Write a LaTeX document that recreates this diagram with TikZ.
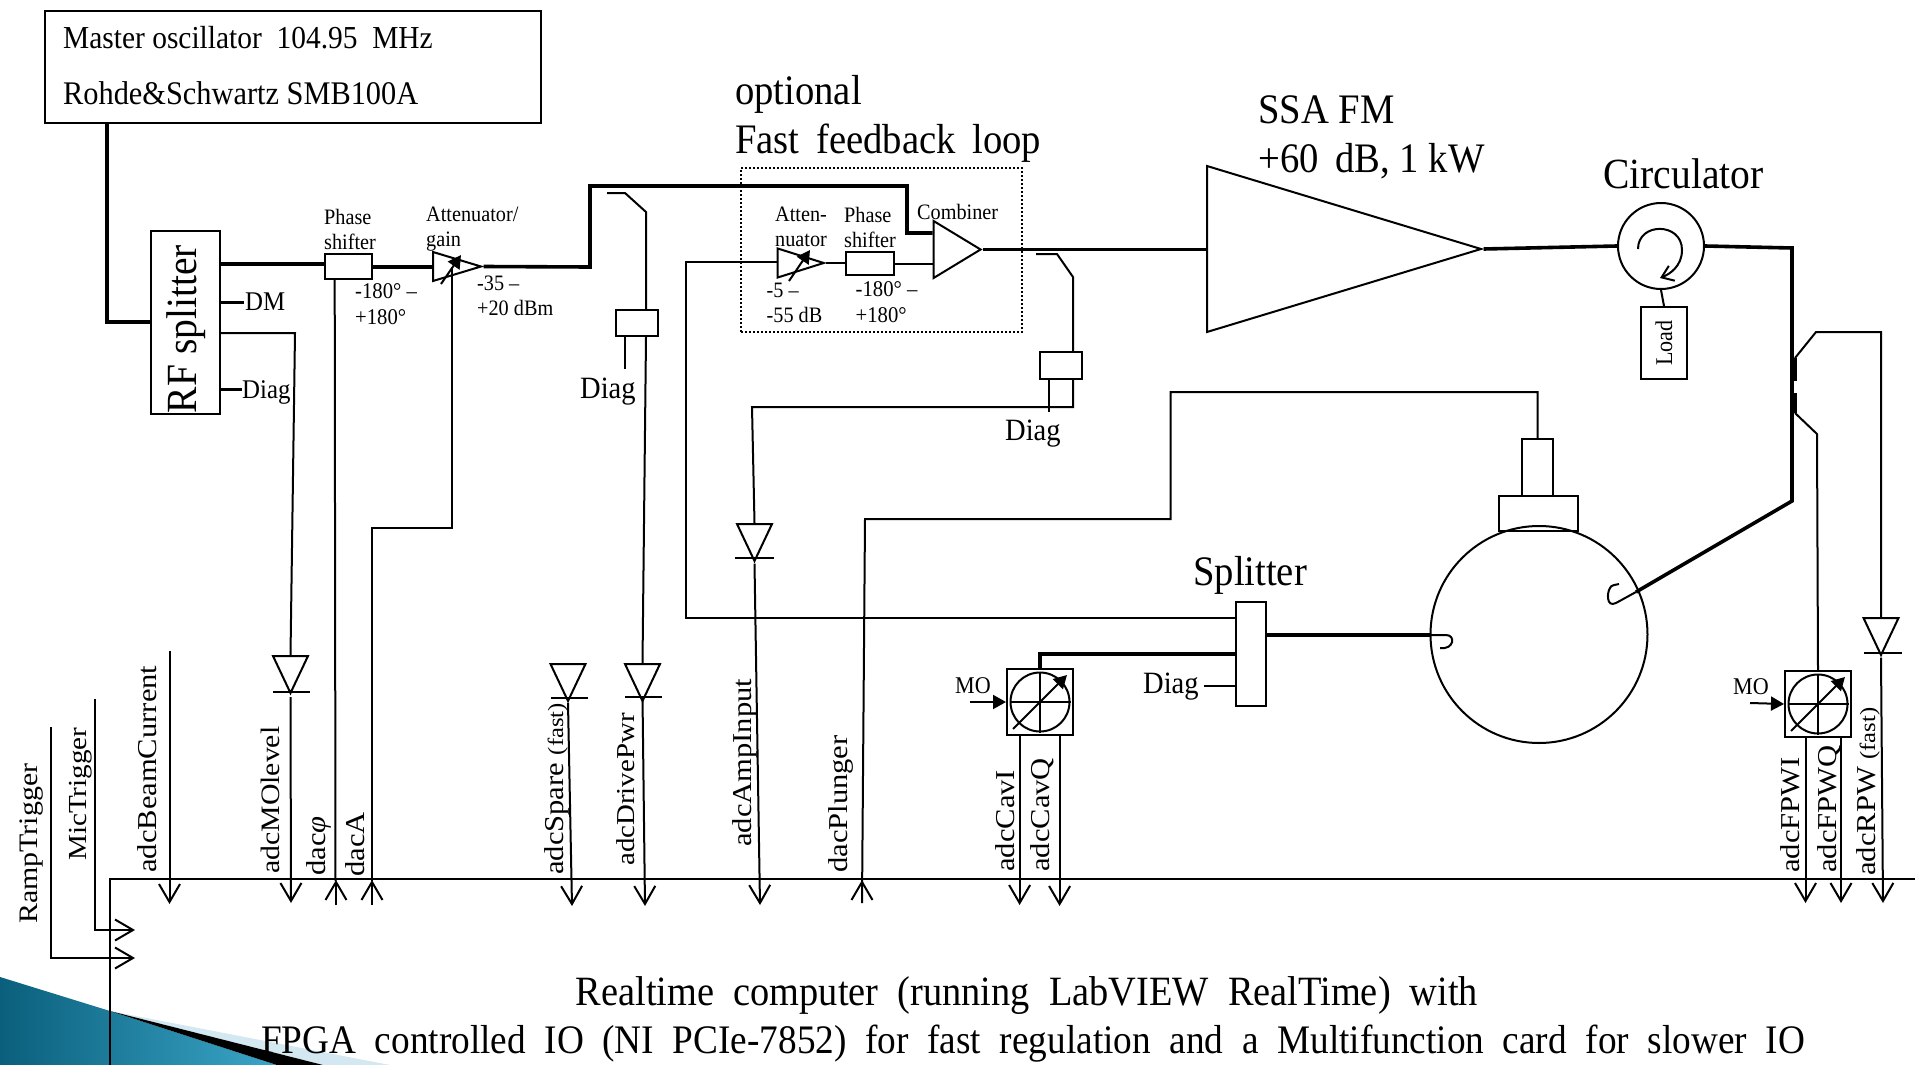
\documentclass[tikz,border=0pt]{standalone}
\usepackage{fontspec}
\setmainfont{Liberation Serif}[FakeStretch=0.92]
\newfontfamily\tallfont{Liberation Serif}[FakeStretch=1.12]
\usepackage{tikz}
\usetikzlibrary{arrows.meta}
\usetikzlibrary{shapes.geometric}
\newcommand{\fs}[1]{\fontsize{#1}{1.12\dimexpr #1pt\relax}\selectfont}
\definecolor{slidedark}{HTML}{0A5F7C}
\definecolor{slidelight}{HTML}{3BA6C8}
\definecolor{slidepale}{HTML}{D3E8F0}
\tikzset{
  wire/.style={line width=2pt},
  rfwire/.style={line width=3.6pt},
  box/.style={draw,line width=2pt,rectangle,inner sep=0pt},
  amp/.style={draw,line width=2pt,isosceles triangle,isosceles triangle stretches,inner sep=0pt,anchor=lower side},
  diode/.style={amp,shape border rotate=-90,minimum height=37pt,minimum width=35pt},
  txt/.style={anchor=base west,inner sep=0pt,align=left},
  vtxt/.style={anchor=base west,inner sep=0pt,rotate=90,font=\tallfont\fs{27.3}},
  tosystem/.style={wire,-{Straight Barb[length=18pt,width=21pt,line width=2pt]}},
  pointer/.style={wire,-{Triangle[length=13pt,width=14pt]}}
}
\begin{document}
\begin{tikzpicture}[x=1pt,y=-1pt]
  \useasboundingbox (0,0) rectangle (1915,1065);

  % slide decoration
  \fill[slidepale] (110,1011) -- (390,1065) -- (323,1065) -- cycle;
  \shade[left color=slidedark,right color=slidelight] (0,977) -- (110,1011) -- (277,1065) -- (0,1065) -- cycle;
  \fill[black] (110,1011) -- (323,1065) -- (277,1065) -- cycle;

  % boxes
  \node[box,minimum width=496pt,minimum height=111pt] (mo) at (293,67) {};
  \node[box,minimum width=69pt,minimum height=183pt] (rf) at (185.5,322.5) {};
  \node[box,minimum width=47pt,minimum height=25pt] (ps1) at (348.5,266.5) {};
  \node[box,minimum width=48pt,minimum height=23pt] (ps2) at (870,263.5) {};
  \node[box,minimum width=42pt,minimum height=26pt] (diag1) at (637,323) {};
  \node[box,minimum width=42pt,minimum height=27pt] (diag2) at (1061,365.5) {};
  \node[box,minimum width=46pt,minimum height=72pt] (load) at (1664,343) {};
  \node[box,minimum width=30pt,minimum height=104pt] (split) at (1251,654) {};
  \node[box,minimum width=31pt,minimum height=57pt] (tunerA) at (1537.5,467.5) {};
  \node[box,minimum width=79pt,minimum height=35pt] (tunerB) at (1538,513.5) {};
  \node[box,minimum width=66pt,minimum height=66pt] (mixA) at (1040,702) {};
  \node[box,minimum width=66pt,minimum height=66pt] (mixB) at (1818,704) {};
  \node[draw,dotted,line width=2pt,minimum width=281pt,minimum height=164pt,inner sep=0pt] (fast) at (881.5,250) {};

  % round parts
  \node[draw,line width=2pt,circle,minimum size=86pt,inner sep=0pt] (circ) at (1661,246) {};
  \node[draw,line width=2pt,circle,minimum size=217pt,inner sep=0pt] (cav) at (1539,634.5) {};
  \node[draw,line width=2pt,circle,minimum size=59pt,inner sep=0pt] (mixAc) at (1040,702) {};
  \node[draw,line width=2pt,circle,minimum size=59pt,inner sep=0pt] (mixBc) at (1818,704) {};

  % amplifiers
  \node[amp,minimum height=48pt,minimum width=29pt] (att1) at (432,266.5) {};
  \node[amp,minimum height=46pt,minimum width=29pt] (att2) at (776.7,263) {};
  \node[amp,minimum height=47pt,minimum width=57pt] (comb) at (932.6,249.5) {};
  \node[amp,minimum height=274pt,minimum width=166pt] (ssa) at (1206,249) {};

  % detectors
  \node[diode] (detMO) at (290.5,655) {};
  \node[diode] (detSp) at (568,663) {};
  \node[diode] (detDr) at (642.5,663) {};
  \node[diode] (detAm) at (754.5,523) {};
  \node[diode] (detRP) at (1881,617) {};
  \coordinate (barMOa) at (273,692); \coordinate (barMOb) at (310,692);
  \coordinate (barSpa) at (551,698); \coordinate (barSpb) at (588,698);
  \coordinate (barDra) at (625,697); \coordinate (barDrb) at (662,697);
  \coordinate (barAma) at (735,558); \coordinate (barAmb) at (774,558);
  \coordinate (barRPa) at (1864,653); \coordinate (barRPb) at (1902,653);
  \foreach \barname in {MO,Sp,Dr,Am,RP}
    \draw[wire] (bar\barname a) -- (bar\barname b);

  % system edge
  \coordinate (edgeL) at (109.5,1065);
  \coordinate (edgeR) at (1915,879);
  \draw[wire] (edgeL) -- (109.5,879) -- (edgeR);

  % RF chain
  \draw[rfwire] (mo.south -| 107,0) -- (107,322) -- (rf.west |- 0,322);
  \draw[rfwire] (rf.east |- 0,264) -- (ps1.west |- 0,264);
  \draw[rfwire] (ps1.east |- 0,267) -- (att1.lower side |- 0,267);
  \draw[rfwire] (att1.apex) -- (590,267) -- (590,186) -- (907,186) -- (907,233) -- (comb.lower side |- 0,233);
  \draw[rfwire] (comb.apex) -- (ssa.lower side |- comb.apex);
  \draw[rfwire] (ssa.apex) -- (circ.west);
  \draw[rfwire] (circ.east) -- (1792,248) -- (1792,501) -- (1636,592);
  \draw[wire] (1636,592) -- (1616,603) .. controls (1606,608) and (1607,592) .. (1610,588) .. controls (1611,585) and (1615,585) .. (1619,584);
  \draw[rfwire] (split.east |- 0,635) -- (cav.west |- 0,635);
  \draw[wire] (cav.west |- 0,635) -- (1446,635) .. controls (1456,635) and (1454,650) .. (1440,648);
  \draw[rfwire] (split.west |- 0,654) -- (1040,654) -- (mixA.north);
  \draw[wire] (circ.south) -- (load.north);

  % fast loop
  \draw[wire] (split.west |- 0,618) -- (685.5,618) -- (685.5,262) -- (att2.lower side |- 0,262);
  \draw[line width=2.6pt] (att2.apex) -- (ps2.west |- att2.apex);
  \draw[wire] (ps2.east) -- (comb.lower side |- ps2.east);
  \draw[pointer] (789,281) -- (810,250);
  \draw[pointer] (441,284) -- (461,255);

  % splitter outputs and couplers
  \draw[wire] (rf.east |- 0,333) -- (295,333) -- (detMO.lower side);
  \coordinate (dmEnd) at (244,302);
  \coordinate (diagEnd) at (242,389);
  \draw[line width=3pt] (rf.east |- dmEnd) -- (dmEnd);
  \draw[line width=3pt] (rf.east |- diagEnd) -- (diagEnd);
  \coordinate (tapA) at (607,193);
  \draw[wire] (tapA) -- (625,193) -- (646,212) -- (diag1.north -| 646,0);
  \draw[wire] (diag1.south -| 646,0) -- (detDr.lower side);
  \coordinate (stubA) at (624.5,369);
  \draw[wire] (diag1.south -| stubA) -- (stubA);
  \coordinate (tapB) at (1036,254);
  \draw[wire] (tapB) -- (1057,254) -- (1073,277) -- (diag2.north -| 1073,0);
  \draw[wire] (diag2.south -| 1073,0) -- (1073,407) -- (752,407) -- (detAm.lower side);
  \coordinate (stubB) at (1049,412);
  \draw[wire] (diag2.south -| stubB) -- (stubB);
  \coordinate (diagSplit) at (1204,686);
  \draw[wire] (diagSplit) -- (split.west |- diagSplit);
  \draw[line width=4pt] (1795,358) -- (1795,381);
  \draw[line width=4pt] (1795,393) -- (1795,413);
  \draw[wire] (1795,358) -- (1816,332) -- (1881,332) -- (detRP.lower side);
  \draw[wire] (1795,413) -- (1817,434) -- (mixB.north);

  % mixers
  \foreach \mixname/\mx/\my in {mixA/1040/702,mixB/1818/704}{
    \draw[wire] (\mixname c.west) -- (\mixname c.east);
    \draw[wire] (\mixname c.north) -- (\mixname c.south);
    \draw[pointer] (\mx-27,\my+27) -- (\mx+27,\my-27);
  }
  \coordinate (moA) at (970,702);
  \coordinate (moB) at (1750,703);
  \draw[pointer] (moA) -- (mixA.west);
  \draw[pointer] (moB) -- (mixB.west);

  % circulator sense
  \draw[wire,-{Straight Barb[length=11pt,width=16pt,line width=2pt]}] (1638,249) .. controls (1638,222) and (1682,222) .. (1682,250) .. controls (1682,266) and (1670,274) .. (1660,278);

  % tuner
  \draw[wire] (tunerA.north) -- (1537.5,392) -- (1170.5,392) -- (1170.5,519) -- (865,519) -- (862,903);

  % signals into the computer
  \coordinate (beamTop) at (169.5,651);  \coordinate (beamEnd) at (169.5,904);
  \coordinate (micTop) at (95,699);      \coordinate (micEnd) at (135,930);
  \coordinate (rampTop) at (51,727);     \coordinate (rampEnd) at (135,958);
  \draw[tosystem] (beamTop) -- (beamEnd);
  \draw[tosystem] (micTop) -- (95,930) -- (micEnd);
  \draw[tosystem] (rampTop) -- (51,958) -- (rampEnd);
  \draw[tosystem] (detMO.apex |- 0,697) -- (291,903);
  \draw[tosystem] (detSp.apex |- 0,703) -- (572,906);
  \draw[tosystem] (detDr.apex |- 0,697) -- (645,906);
  \draw[tosystem] (detAm.apex) -- (760,905);
  \draw[tosystem] (mixA.south -| 1019.6,0) -- (1019.6,905);
  \draw[tosystem] (mixA.south -| 1059.6,0) -- (1059.6,906);
  \draw[tosystem] (mixB.south -| 1805.5,0) -- (1805.5,903);
  \draw[tosystem] (mixB.south -| 1841,0) -- (1841,903);
  \draw[tosystem] (detRP.apex) -- (1883,903);

  % signals out of the computer
  \coordinate (phiEnd) at (336,905);
  \coordinate (aEnd) at (372,905);
  \coordinate (plungerEnd) at (862,903);
  \draw[wire] (ps1.south -| 334.7,0) -- (335.5,881);
  \draw[wire] (att1.apex -| 452,0) -- (452,281) -- (452,528) -- (372,528) -- (372,881);
  \draw[tosystem] (phiEnd) -- (336,880);
  \draw[tosystem] (aEnd) -- (372,880);
  \draw[tosystem] (plungerEnd) -- (862,880);

  % text
  \node[txt,font=\fs{32}] (moT) at (63,49) {Master oscillator~~104.95~~MHz};
  \node[txt,font=\fs{33}] (moU) at (63,104) {Rohde\&Schwartz SMB100A};
  \node[anchor=center,inner sep=0pt,rotate=90,font=\fs{43}] (rfT) at (186,329) {RF splitter};
  \node[txt,font=\fs{27}] (dmT) at (245,310) {DM};
  \node[txt,font=\fs{27}] (diagT) at (242,398) {Diag};
  \node[txt,font=\fs{22}] (ps1T) at (324,249) {Phase\\shifter};
  \node[txt,font=\fs{22.5}] (ps1V) at (355,324) {-180° –\\+180°};
  \node[txt,font=\fs{22}] (att1T) at (426,246) {Attenuator/\\gain};
  \node[txt,font=\fs{22}] (att1V) at (477,315) {-35 –\\+20 dBm};
  \node[txt,font=\fs{31}] (diag1T) at (580,398) {Diag};
  \node[txt,font=\fs{42}] (optT) at (735,104) {optional};
  \node[txt,font=\fs{42}] (optU) at (735,153) {Fast~\,feedback~\,loop};
  \node[txt,font=\fs{22}] (att2T) at (775,246) {Atten-\\nuator};
  \node[txt,font=\fs{22}] (ps2T) at (844,247) {Phase\\shifter};
  \node[txt,font=\fs{22}] (combT) at (917,219) {Combiner};
  \node[txt,font=\fs{22}] (att2V) at (766.5,322) {-5 –\\-55 dB};
  \node[txt,font=\fs{22.5}] (ps2V) at (855.5,322) {-180° –\\+180°};
  \node[txt,font=\fs{31}] (diag2T) at (1005,440) {Diag};
  \node[txt,font=\fs{42}] (ssaT) at (1258,123.5) {SSA FM};
  \node[txt,font=\fs{42}] (ssaU) at (1258,172) {+60~\,dB, 1~kW};
  \node[txt,font=\fs{43}] (circT) at (1603,188) {Circulator};
  \node[inner sep=0pt,rotate=90,font=\fs{24}] (loadT) at (1664,343) {Load};
  \node[txt,font=\fs{42}] (splitT) at (1193,585) {Splitter};
  \node[txt,font=\fs{31}] (diag3T) at (1143,693) {Diag};
  \node[txt,font=\fs{24}] (moAT) at (955,693) {MO};
  \node[txt,font=\fs{24}] (moBT) at (1733,694) {MO};
  \node[vtxt,font=\tallfont\fs{26.7}] (rampT) at (37.5,924) {RampTrigger};
  \node[vtxt,font=\tallfont\fs{26}] (micT) at (86,861) {MicTrigger};
  \node[vtxt] (beamT) at (156,873) {adcBeamCurrent};
  \node[vtxt,font=\tallfont\fs{26.6}] (molT) at (279.5,874) {adcMOlevel};
  \node[vtxt] (phiT) at (325.7,876) {dac{\itshape φ}};
  \node[vtxt] (aT) at (364,877) {dacA};
  \node[vtxt] (spT) at (563,875) {adcSpare {\fs{22}(fast)}};
  \node[vtxt,font=\tallfont\fs{25.8}] (drT) at (634,866) {adcDrivePwr};
  \node[vtxt] (amT) at (751,847) {adcAmpInput};
  \node[vtxt] (plT) at (847,873) {dacPlunger};
  \node[vtxt] (cavIT) at (1014,872) {adcCavI};
  \node[vtxt] (cavQT) at (1049,872) {adcCavQ};
  \node[vtxt] (fpIT) at (1799.4,873) {adcFPWI};
  \node[vtxt] (fpQT) at (1836,873) {adcFPWQ};
  \node[vtxt] (rpT) at (1875,876) {adcRPW {\fs{22}(fast)}};
  \node[inner sep=0pt,font=\fs{41.7}] (rtT) at (1027,995.5) {Realtime~~computer~~(running~~LabVIEW~~RealTime)~~with};
  \node[inner sep=0pt,font=\fs{40.5}] (rtU) at (1033,1043.5) {FPGA~~controlled~~IO~~(NI~~PCIe-7852)~~for~~fast~~regulation~~and~~a~~Multifunction~~card~~for~~slower~~IO};
\end{tikzpicture}
\end{document}
